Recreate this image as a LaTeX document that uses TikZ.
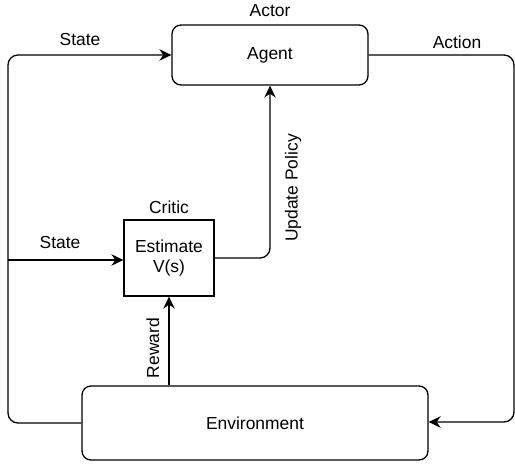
\documentclass[tikz,border=0pt]{standalone}
\usepackage{fontspec}
\setmainfont{Liberation Sans}
\usetikzlibrary{arrows.meta}
\begin{document}
\begin{tikzpicture}[x=1bp,y=-1bp,
  every node/.style={font=\fontsize{17.5}{21}\selectfont, inner sep=0pt},
  box/.style={draw, line width=1.3bp, rounded corners=9bp, align=center},
  sqbox/.style={draw, line width=1.3bp, align=center},
  conn/.style={line width=1.3bp, rounded corners=10bp},
  arr/.style={conn, -{Stealth[length=12bp,width=11.5bp,inset=4bp]}},
  lbl/.style={}
]
\useasboundingbox (0,0) rectangle (515,465);
\node[box, minimum width=196bp, minimum height=60bp] (agent) at (270,55) {Agent};
\node[box, minimum width=346bp, minimum height=74bp] (env) at (255,423) {Environment};
\node[sqbox, minimum width=90bp, minimum height=76bp] (critic) at (169,258) {Estimate\\V(s)};
\node[lbl] (actorl) at (270,11) {Actor};
\node[lbl] (critl) at (169,207) {Critic};
\node[lbl] (statel1) at (80,40) {State};
\node[lbl] (statel2) at (60,242) {State};
\node[lbl] (actionl) at (457,42) {Action};
\node[lbl, rotate=90] (updl) at (293,188) {Update Policy};
\node[lbl, rotate=90] (rewl) at (153,348) {Reward};
\coordinate (lt) at (8,55);
\coordinate (lb) at (8,423);
\coordinate (br) at (514,422);
\coordinate (tr) at (514,55);
\coordinate (branch) at (8,260);
\coordinate (upc) at (270,258);
\draw[arr] (env.west) -- (lb) -- (lt) -- (agent.west);
\draw[arr] (agent.east) -- (tr) -- (br) -- (env.east |- br);
\draw[arr] (branch) -- (critic.west |- branch);
\draw[arr] (critic.east) -- (upc) -- (agent.south);
\draw[arr] (env.north -| critic.south) -- (critic.south);
\end{tikzpicture}
\end{document}
